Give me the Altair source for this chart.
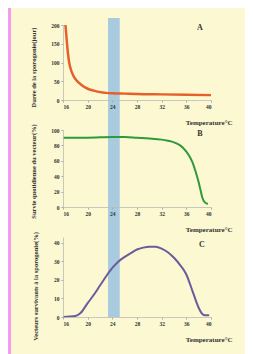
import altair as alt
import pandas as pd

# ---- data ----
temp_a = [16.4, 16.6, 16.8, 17.0, 17.3, 17.7, 18.2, 19.0, 20.0, 21.0, 22.0, 23.0, 24.0, 26.0, 28.0, 32.0, 36.0, 40.0]
dur_a = [200, 160, 125, 100, 80, 64, 52, 40, 30, 25, 21, 19, 18, 17, 16, 15, 14, 13]

temp_b = [16, 20, 24, 26, 28, 30, 32, 33, 34, 35, 36, 36.5, 37, 37.5, 38, 38.3, 38.6, 39, 39.5]
surv_b = [90, 90, 91, 91, 90, 89, 87.5, 86, 84, 80, 72, 66, 58, 46, 32, 22, 12, 6, 4]

temp_c = [16, 18, 18.8, 20, 21, 22, 23, 24, 25, 26, 27, 28, 29, 30, 31, 32, 33, 34, 35, 36, 37, 38, 38.5, 39, 39.7]
vec_c = [0, 0.5, 2, 7.5, 12, 17, 22, 26.5, 30, 32.5, 34.5, 36.5, 37.5, 38, 38, 37, 35, 32, 28, 23, 14, 5, 2, 1, 1]

x_ticks = [16, 20, 24, 28, 32, 36, 40]
ticks_a = [0, 50, 100, 150, 200]
ticks_b = [0, 20, 40, 60, 80, 100]
ticks_c = [0, 10, 20, 30, 40]
band = {"start": [23.3], "end": [25.2]}

titles_y = ["Durée de la sporogonie(jour)", "Survie quotidienne du vecteur(%)",
            "Vecteurs survivants à la sporogonie(%)"]
x_title = "Temperature°C"
letters = ["A", "B", "C"]

# ---- style ----
FONT = "Liberation Serif"
PINK = "#f39cf0"
YELLOW = "#fbf8d2"
BLUE = "#a9cbe0"
W = 148

xscale = alt.Scale(domain=[16, 40], nice=False, zero=False)
one = pd.DataFrame({"k": [0]})


def x_axis():
    return alt.Axis(values=x_ticks, title=x_title, titleX=169, titleY=22,
                    titleAlign="right", titleBaseline="middle", titleFontSize=7,
                    zindex=1)


def y_axis(vals, title, ty, tx=-30):
    return alt.Axis(values=vals, title=title, titleX=tx, titleY=ty,
                    titleAngle=-90, titleAlign="center", titleBaseline="middle",
                    titleFontSize=6.5, zindex=1)


def letter(txt, x, y):
    return alt.Chart(one).mark_text(text=txt, font=FONT, fontWeight="bold",
                                    fontSize=8, color="#333").encode(
        x=alt.value(x), y=alt.value(y))


# Panel A (also carries the yellow sheet and the blue band for all panels)
bg = alt.Chart(one).mark_rect(color=YELLOW, clip=False).encode(
    x=alt.value(-52), x2=alt.value(182), y=alt.value(-17), y2=alt.value(329))
band_layer = alt.Chart(pd.DataFrame(band)).mark_rect(color=BLUE, clip=False).encode(
    x=alt.X("start:Q", scale=xscale, axis=x_axis()), x2="end:Q",
    y=alt.value(-7), y2=alt.value(292))
line_a = alt.Chart(pd.DataFrame({"T": temp_a, "D": dur_a})).mark_line(
    color="#e5602a", strokeWidth=2.5, interpolate="monotone").encode(
    x=alt.X("T:Q", scale=xscale, axis=x_axis()),
    y=alt.Y("D:Q", scale=alt.Scale(domain=[0, 200], nice=False),
            axis=y_axis(ticks_a, titles_y[0], 42)))
panel_a = alt.layer(bg, band_layer, line_a, letter(letters[0], 137, 3)).properties(
    width=W, height=75)

# Panel B
line_b = alt.Chart(pd.DataFrame({"T": temp_b, "S": surv_b})).mark_line(
    color="#2f9a3c", strokeWidth=2, interpolate="monotone").encode(
    x=alt.X("T:Q", scale=xscale, axis=x_axis()),
    y=alt.Y("S:Q", scale=alt.Scale(domain=[0, 100], nice=False),
            axis=y_axis(ticks_b, titles_y[1], 41)))
panel_b = alt.layer(line_b, letter(letters[1], 137, 4)).properties(width=W, height=77)

# Panel C
line_c = alt.Chart(pd.DataFrame({"T": temp_c, "V": vec_c})).mark_line(
    color="#6b5b9c", strokeWidth=2, interpolate="monotone").encode(
    x=alt.X("T:Q", scale=xscale, axis=x_axis()),
    y=alt.Y("V:Q", scale=alt.Scale(domain=[0, 43.24], nice=False),
            axis=y_axis(ticks_c, titles_y[2], 49, -28)))
panel_c = alt.layer(line_c, letter(letters[2], 139, 8)).properties(width=W, height=80)

chart = alt.vconcat(panel_a, panel_b, panel_c, spacing=30, bounds="flush").properties(
    background=PINK,
    padding={"left": 3, "right": 0, "top": 0, "bottom": 0},
).configure_view(stroke=None).configure_axis(
    grid=False, domainColor="#bbbbbb", domainWidth=0.8,
    tickColor="#aaaaaa", tickSize=2, labelFont=FONT, labelFontWeight="bold",
    labelFontSize=5.5, labelColor="#333", labelPadding=2,
    titleFont=FONT, titleFontWeight="bold", titleColor="#333",
)

chart.save("out.html", embed_options={"renderer": "svg", "actions": False})
